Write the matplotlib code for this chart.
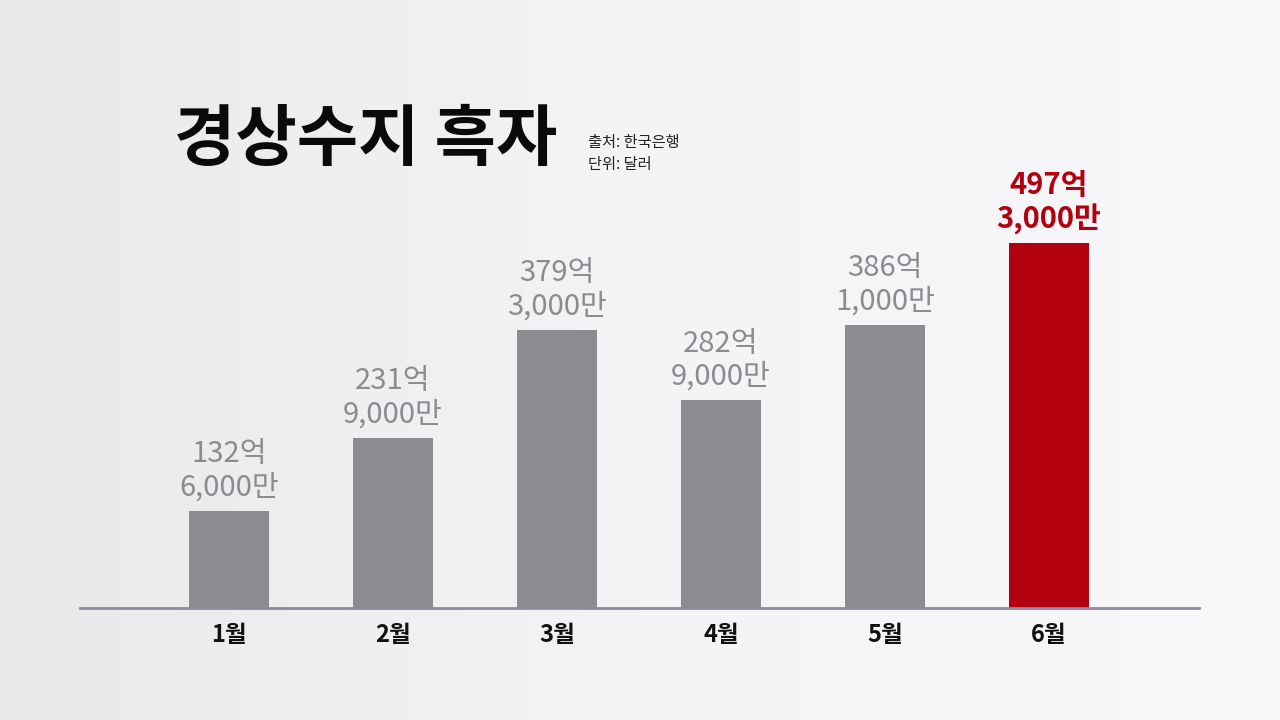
import matplotlib
matplotlib.use("Agg")
import matplotlib.pyplot as plt
import numpy as np

plt.rcParams['font.family'] = ['Noto Sans CJK KR', 'DejaVu Sans']

# data (unit: 억 달러)
months = ["1월", "2월", "3월", "4월", "5월", "6월"]
values = [132.6, 231.9, 379.3, 282.9, 386.1, 497.3]
labels_top = ["132억", "231억", "379억", "282억", "386억", "497억"]
labels_bottom = ["6,000만", "9,000만", "3,000만", "9,000만", "1,000만", "3,000만"]

gray = "#8b8c90"
red = "#b3000f"

fig = plt.figure(figsize=(12.8, 7.2), dpi=100)

# light background gradient
bg = fig.add_axes([0, 0, 1, 1], zorder=0)
grad = np.linspace(0, 1, 256).reshape(1, -1)
bg.imshow(grad, aspect="auto", cmap=matplotlib.colors.LinearSegmentedColormap.from_list(
    "bg", ["#e9e9eb", "#f4f4f6", "#f8f8fa"]), extent=[0, 1, 0, 1])
bg.axis("off")

W, H = 1280, 720
base_px = 608
top_px = 180
ax = fig.add_axes([80 / W, (H - base_px) / H, (1199 - 80) / W, (base_px - top_px) / H], zorder=1)
ax.patch.set_alpha(0)

x = np.arange(len(months))
colors = [gray] * (len(months) - 1) + [red]
ax.bar(x, values, width=0.488, color=colors, zorder=2)

ax.set_xlim(-0.9085, 5.915)
ax.set_ylim(0, values[-1] * (base_px - top_px) / 365)

for i, v in enumerate(values):
    last = i == len(values) - 1
    ax.annotate(labels_top[i] + "\n" + labels_bottom[i], (x[i], v),
                xytext=(0, 6), textcoords="offset points",
                ha="center", va="bottom", fontsize=21, linespacing=1.15,
                color=red if last else gray,
                fontweight="bold" if last else "normal")

ax.set_xticks(x)
ax.set_xticklabels(months, fontsize=17, fontweight="bold", color="#111111")
ax.tick_params(axis="x", length=0, pad=11)
ax.set_yticks([])
for s in ["top", "right", "left"]:
    ax.spines[s].set_visible(False)
ax.spines["bottom"].set_color("#8c8a9e")
ax.spines["bottom"].set_linewidth(2)

fig.text(174 / W, 1 - 141 / H, "경상수지 흑자", fontsize=48, fontweight="bold",
         color="#0a0a0a", ha="left", va="center")
fig.text(588 / W, 1 - 143 / H, "출처: 한국은행", fontsize=11, color="#222222",
         ha="left", va="center")
fig.text(588 / W, 1 - 165 / H, "단위: 달러", fontsize=11, color="#222222",
         ha="left", va="center")

fig.savefig("out.png", dpi=100)
